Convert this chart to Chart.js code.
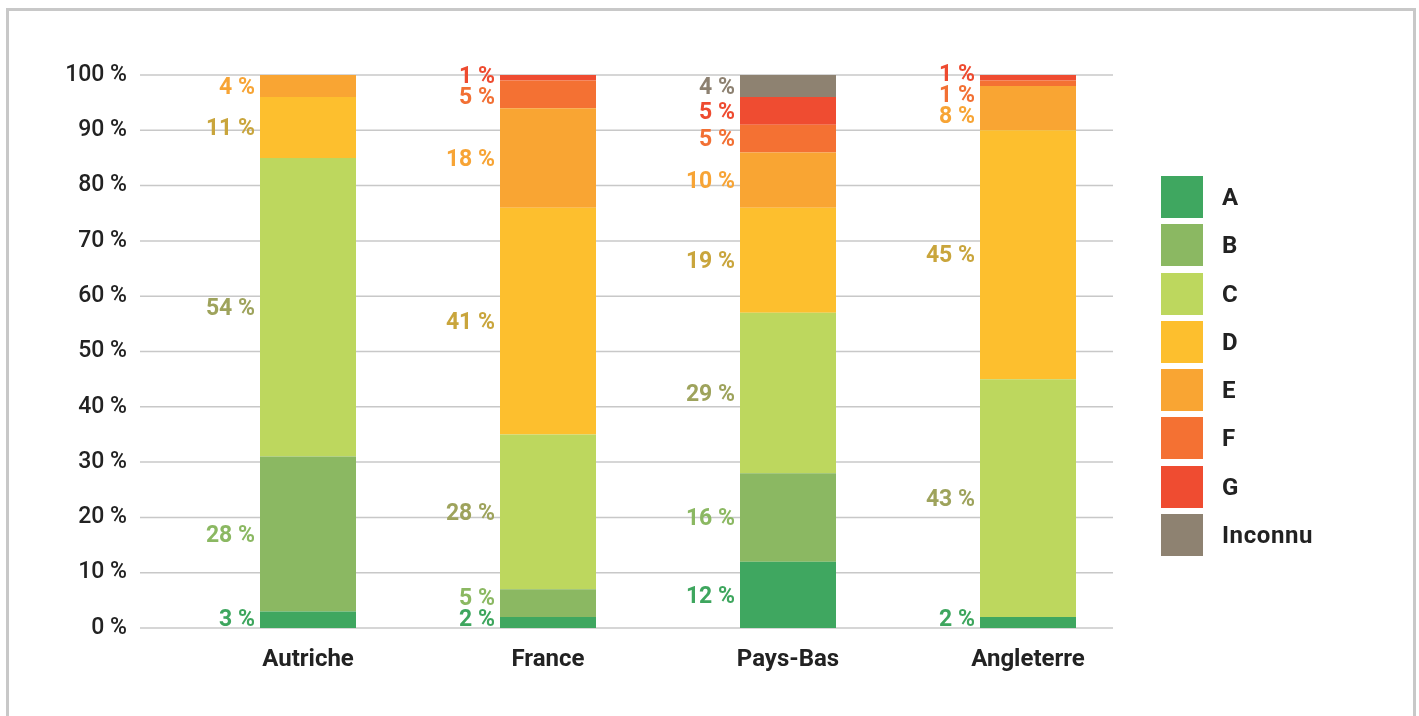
<!DOCTYPE html>
<html>
<head>
<meta charset="utf-8">
<script src="https://cdn.jsdelivr.net/npm/chart.js@4.4.0/dist/chart.umd.min.js"></script>
<style>
  html, body { margin: 0; padding: 0; background: #fff; overflow: hidden; }
  #frame {
    position: absolute; left: 6px; top: 8px;
    width: 1404px; height: 800px;
    border: 3px solid #c8c8c8;
  }
  #chart { position: absolute; left: 0; top: 0; }
  #legend {
    position: absolute; left: 1161px; top: 176px;
    font-family: Roboto, sans-serif; font-weight: 700; font-size: 24px;
    letter-spacing: 0.6px; color: #222;
  }
  .item { display: flex; align-items: center; height: 42px; margin-bottom: 6.3px; }
  .swatch { width: 42px; height: 42px; margin-right: 19px; }
</style>
</head>
<body>
<div id="frame"></div>
<canvas id="chart" width="1419" height="716"></canvas>
<div id="legend"></div>
<script>
const countries = ["Autriche", "France", "Pays-Bas", "Angleterre"];
const seriesNames = ["A", "B", "C", "D", "E", "F", "G", "Inconnu"];

// share per category, bottom to top of each bar
const valuesA = [3, 2, 12, 2];
const valuesB = [28, 5, 16, 0];
const valuesC = [54, 28, 29, 43];
const valuesD = [11, 41, 19, 45];
const valuesE = [4, 18, 10, 8];
const valuesF = [0, 5, 5, 1];
const valuesG = [0, 1, 5, 1];
const valuesInconnu = [0, 0, 4, 0];

const yMin = 0;
const yMax = 100;
const yStep = 10;

const fillColors = ["#3fa760", "#8bb862", "#bdd75e", "#fdbf2e", "#f9a533", "#f47133", "#ef4c31", "#8e8271"];
const labelColors = ["#3ea65e", "#8bb862", "#9ea35c", "#c9a53c", "#f7a435", "#f27034", "#ee4b30", "#8d8171"];

const allValues = [valuesA, valuesB, valuesC, valuesD, valuesE, valuesF, valuesG, valuesInconnu];

// grid lines run a bit wider on the left than the plot area
const gridLines = {
  id: "gridLines",
  beforeDatasetsDraw(chart) {
    const { ctx } = chart;
    const y = chart.scales.y;
    ctx.save();
    ctx.strokeStyle = "#c8c8c8";
    ctx.lineWidth = 1.5;
    y.ticks.forEach((t) => {
      const py = y.getPixelForValue(t.value);
      ctx.beginPath();
      ctx.moveTo(140, py);
      ctx.lineTo(1113, py);
      ctx.stroke();
    });
    ctx.restore();
  },
};

// place labels in a column, grouping neighbours that would collide
function spreadLabels(items, gap, top, bottom) {
  items.sort((a, b) => a.y - b.y);
  let groups = items.map((it) => [it]);
  const start = (g) => {
    const mean = g.reduce((s, it) => s + it.y, 0) / g.length;
    let s = mean - ((g.length - 1) * gap) / 2;
    s = Math.max(top, Math.min(s, bottom - (g.length - 1) * gap));
    return s;
  };
  let merged = true;
  while (merged) {
    merged = false;
    for (let i = 0; i < groups.length - 1; i++) {
      const endA = start(groups[i]) + (groups[i].length - 1) * gap;
      if (start(groups[i + 1]) - endA < gap) {
        groups.splice(i, 2, groups[i].concat(groups[i + 1]));
        merged = true;
        break;
      }
    }
  }
  groups.forEach((g) => {
    const s = start(g);
    g.forEach((it, k) => (it.ly = s + k * gap));
  });
}

const segmentLabels = {
  id: "segmentLabels",
  afterDatasetsDraw(chart) {
    const { ctx, chartArea } = chart;
    ctx.save();
    ctx.font = "700 23px Roboto";
    ctx.textAlign = "right";
    ctx.textBaseline = "middle";
    countries.forEach((c, ci) => {
      const items = [];
      let left = 0;
      chart.data.datasets.forEach((ds, di) => {
        const v = ds.data[ci];
        if (!v) return;
        const bar = chart.getDatasetMeta(di).data[ci];
        left = bar.x - bar.width / 2;
        items.push({ y: (bar.y + bar.base) / 2, text: v + " %", color: labelColors[di] });
      });
      spreadLabels(items, 21, chartArea.top - 2, chartArea.bottom - 10);
      items.forEach((it) => {
        ctx.fillStyle = it.color;
        ctx.fillText(it.text, left - 5, it.ly + 2);
      });
    });
    ctx.restore();
  },
};

function draw() {
  Chart.defaults.font.family = "Roboto";
  new Chart(document.getElementById("chart"), {
    type: "bar",
    data: {
      labels: countries,
      datasets: seriesNames.map((name, i) => ({
        label: name,
        data: allValues[i],
        backgroundColor: fillColors[i],
        borderWidth: 0,
        barPercentage: 0.4,
        categoryPercentage: 1,
      })),
    },
    options: {
      responsive: false,
      animation: false,
      devicePixelRatio: 1,
      layout: { padding: { left: 0, right: 271, top: 75, bottom: 28 } },
      plugins: { legend: { display: false }, tooltip: { enabled: false } },
      scales: {
        x: {
          stacked: true,
          grid: { display: false, drawTicks: false },
          border: { display: false },
          ticks: { color: "#222", font: { size: 24, weight: "700" }, padding: 18 },
          afterFit: (s) => { s.height = 60; },
        },
        y: {
          stacked: true,
          min: yMin,
          max: yMax,
          grid: { display: false, drawTicks: false },
          border: { display: false },
          ticks: {
            stepSize: yStep,
            color: "#222",
            font: { size: 23, weight: "500" },
            padding: 61,
            callback: (v) => v + " %",
          },
          afterFit: (s) => { s.width = 188; },
        },
      },
    },
    plugins: [gridLines, segmentLabels],
  });

  const legend = document.getElementById("legend");
  seriesNames.forEach((name, i) => {
    const row = document.createElement("div");
    row.className = "item";
    const sw = document.createElement("div");
    sw.className = "swatch";
    sw.style.background = fillColors[i];
    const txt = document.createElement("span");
    txt.textContent = name;
    row.appendChild(sw);
    row.appendChild(txt);
    legend.appendChild(row);
  });
}

document.fonts.load("700 23px Roboto").then(draw, draw);
</script>
</body>
</html>
